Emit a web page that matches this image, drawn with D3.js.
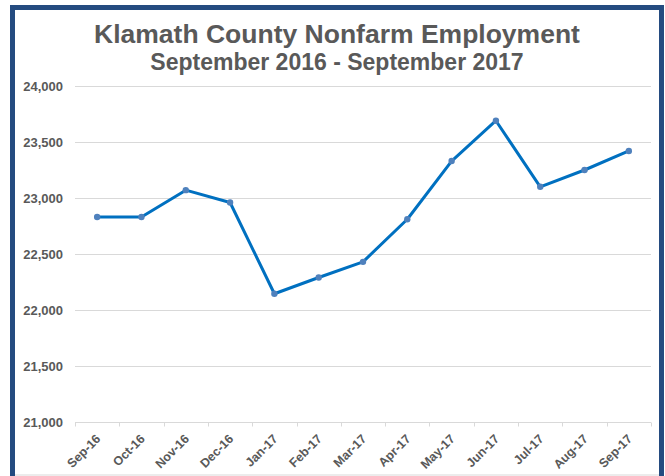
<!DOCTYPE html>
<html>
<head>
<meta charset="utf-8">
<script src="https://cdn.jsdelivr.net/npm/d3@7"></script>
<style>
  body { margin: 0; background: #fff; }
  svg { display: block; font-family: "Liberation Sans", Arial, sans-serif; }
</style>
</head>
<body>
<svg id="chart" width="665" height="476"></svg>
<script>
// data
var months = ["Sep-16", "Oct-16", "Nov-16", "Dec-16", "Jan-17", "Feb-17", "Mar-17",
              "Apr-17", "May-17", "Jun-17", "Jul-17", "Aug-17", "Sep-17"];
var employment = [22830, 22830, 23070, 22960, 22145, 22290, 22430,
                  22810, 23330, 23690, 23100, 23250, 23420];
var yTicks = [21000, 21500, 22000, 22500, 23000, 23500, 24000];

var title = "Klamath County Nonfarm Employment";
var subtitle = "September 2016 - September 2017";

var textColor = "#595959",
    gridColor = "#d9d9d9",
    lineColor = "#0070c0",
    markColor = "#4f81bd",
    frameColor = "#244b80";

var svg = d3.select("#chart");

// plot box
var plot = { left: 75, right: 651, top: 86, bottom: 422 };

var x = d3.scaleBand().domain(months).range([plot.left, plot.right]);
var y = d3.scaleLinear().domain([21000, 24000]).range([plot.bottom, plot.top]);

// frame
svg.append("line")
    .attr("x1", 15).attr("x2", 659).attr("y1", 475).attr("y2", 475)
    .attr("stroke", gridColor).attr("stroke-width", 1);
svg.append("rect")
    .attr("x", 12.5).attr("y", 7.5)
    .attr("width", 649).attr("height", 480)
    .attr("fill", "none")
    .attr("stroke", frameColor)
    .attr("stroke-width", 5);

// titles
svg.append("text")
    .attr("x", 337).attr("y", 43)
    .attr("text-anchor", "middle")
    .style("font-size", "26.5px").style("font-weight", "bold")
    .attr("fill", textColor)
    .text(title);
svg.append("text")
    .attr("x", 337).attr("y", 70)
    .attr("text-anchor", "middle")
    .style("font-size", "23px").style("font-weight", "bold")
    .attr("fill", textColor)
    .text(subtitle);

// gridlines
svg.append("g")
    .selectAll("line")
    .data(yTicks.filter(function(d) { return d > 21000; }))
    .join("line")
    .attr("x1", plot.left).attr("x2", plot.right)
    .attr("y1", function(d) { return Math.round(y(d)) + 0.5; })
    .attr("y2", function(d) { return Math.round(y(d)) + 0.5; })
    .attr("stroke", gridColor)
    .attr("stroke-width", 1);

// y labels
svg.append("g")
    .selectAll("text")
    .data(yTicks)
    .join("text")
    .attr("x", 63)
    .attr("y", function(d) { return y(d); })
    .attr("dy", "0.35em")
    .attr("text-anchor", "end")
    .style("font-size", "13px").style("font-weight", "bold")
    .attr("fill", textColor)
    .text(d3.format(","));

// x axis with ticks between categories
var xAxis = svg.append("g")
    .attr("transform", "translate(0," + (Math.round(plot.bottom) + 0.5) + ")");
xAxis.append("line")
    .attr("x1", plot.left).attr("x2", plot.right)
    .attr("stroke", gridColor);
var bounds = months.map(function(m) { return x(m); }).concat([plot.right]);
xAxis.selectAll(".tick")
    .data(bounds)
    .join("line")
    .attr("class", "tick")
    .attr("x1", function(d) { return Math.round(d) + 0.5; })
    .attr("x2", function(d) { return Math.round(d) + 0.5; })
    .attr("y1", 0).attr("y2", 4)
    .attr("stroke", gridColor);

xAxis.selectAll(".lbl")
    .data(months)
    .join("text")
    .attr("class", "lbl")
    .attr("transform", function(d) {
        return "translate(" + (x(d) + x.bandwidth() / 2 + 1) + ",14) rotate(-45)";
    })
    .attr("dy", "0.35em")
    .attr("text-anchor", "end")
    .style("font-size", "12.5px").style("font-weight", "bold")
    .attr("fill", textColor)
    .text(function(d) { return d; });

// line + markers
var line = d3.line()
    .x(function(d, i) { return x(months[i]) + x.bandwidth() / 2; })
    .y(function(d) { return y(d); });

svg.append("path")
    .datum(employment)
    .attr("d", line)
    .attr("fill", "none")
    .attr("stroke", lineColor)
    .attr("stroke-width", 3)
    .attr("stroke-linejoin", "round");

svg.append("g")
    .selectAll("circle")
    .data(employment)
    .join("circle")
    .attr("cx", function(d, i) { return x(months[i]) + x.bandwidth() / 2; })
    .attr("cy", function(d) { return y(d); })
    .attr("r", 3.2)
    .attr("fill", markColor);
</script>
</body>
</html>
